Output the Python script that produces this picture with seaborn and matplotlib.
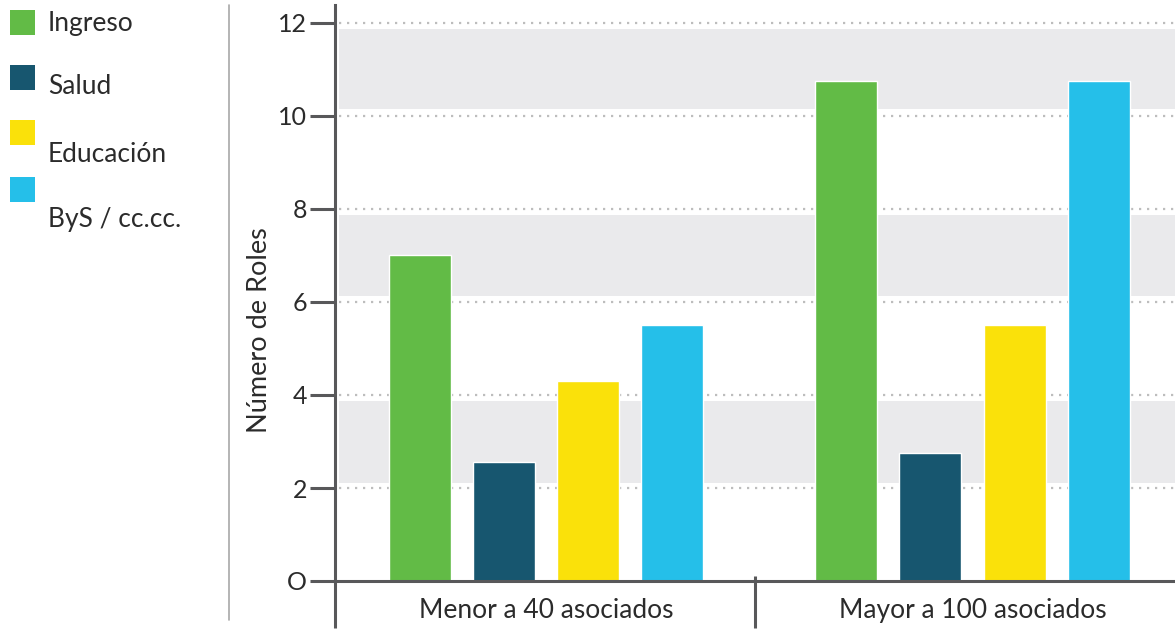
import matplotlib
matplotlib.use("Agg")
import matplotlib.pyplot as plt
import matplotlib.transforms as mtransforms
import seaborn as sns
import pandas as pd

# Data
groups = ["Menor a 40 asociados", "Mayor a 100 asociados"]
series = ["Ingreso", "Salud", "Educación", "ByS / cc.cc."]
ingreso = [7.0, 10.75]
salud = [2.55, 2.75]
educacion = [4.3, 5.5]
bys = [5.5, 10.75]
colors = ["#62BB46", "#17566F", "#FAE10A", "#25BFE9"]
yticks = [0, 2, 4, 6, 8, 10, 12]
ytick_labels = ["O", "2", "4", "6", "8", "10", "12"]
bands = [(2.1, 3.88), (6.12, 7.88), (10.15, 11.88)]

values = {"Ingreso": ingreso, "Salud": salud, "Educación": educacion, "ByS / cc.cc.": bys}
df = pd.DataFrame(
    [(g, s, values[s][i]) for s in series for i, g in enumerate(groups)],
    columns=["grupo", "serie", "roles"],
)

sns.set_theme(style="white")
plt.rcParams["font.family"] = ["Lato", "DejaVu Sans"]
text_color = "#2b2b2b"
axis_color = "#58585A"

W, H = 1175, 629
fig = plt.figure(figsize=(W / 100, H / 100), dpi=100)
ax_left, ax_right, ax_top, ax_bottom = 335, 1175, 5, 581
ax_w, ax_h = ax_right - ax_left, ax_bottom - ax_top
ax = fig.add_axes([ax_left / W, (H - ax_bottom) / H, ax_w / W, ax_h / H])

ymax = ax_h / 46.5
x_lo, x_hi = -0.4947, 1.4748
sep_x = x_lo + 420 / 426.5

# Shaded bands and dotted grid
for lo, hi in bands:
    ax.axhspan(lo, hi, xmin=4 / ax_w, xmax=1, color="#EAEAEC", lw=0, zorder=0)
for t in yticks[1:]:
    ax.axhline(t, xmin=4 / ax_w, xmax=1, color="#BDBDBD", lw=1.6,
               ls=(0, (1, 2.6)), zorder=0.5)

sns.barplot(data=df, x="grupo", y="roles", hue="serie", order=groups,
            hue_order=series, palette=colors, width=0.79, gap=0.264,
            saturation=1, legend=False, ax=ax, zorder=2)

ax.set_xlim(x_lo, x_hi)
ax.set_ylim(0, ymax)

# Axes styling
for side in ["top", "right"]:
    ax.spines[side].set_visible(False)
for side in ["left", "bottom"]:
    ax.spines[side].set_color(axis_color)
    ax.spines[side].set_linewidth(2.2)
    ax.spines[side].set_zorder(3)

ax.set_yticks(yticks)
ax.set_yticklabels(ytick_labels)
ax.tick_params(axis="y", length=18, width=2.2, color=axis_color, pad=2,
               labelsize=18, labelcolor=text_color, left=True)
ax.tick_params(axis="x", length=0, pad=12, labelsize=19, labelcolor=text_color)
ax.set_xlabel("")
ax.set_ylabel("Número de Roles", fontsize=19.5, color=text_color)
ax.yaxis.set_label_coords(-0.075, 0.436)

# Category separators below the axis
trans = mtransforms.blended_transform_factory(ax.transData, ax.transAxes)
y_low = -(628 - ax_bottom) / ax_h
ax.plot([x_lo, x_lo], [y_low, 0], transform=trans, color=axis_color,
        lw=2.2, clip_on=False, zorder=3, solid_capstyle="butt")
ax.plot([sep_x, sep_x], [y_low, 5 / ax_h], transform=trans,
        color=axis_color, lw=2.2, clip_on=False, zorder=3, solid_capstyle="butt")

# Legend column on the left
square_tops = [10, 65, 120, 177]
label_centers = [23, 87, 154, 219]
for s, c, top, yc in zip(series, colors, square_tops, label_centers):
    fig.patches.append(plt.Rectangle((10 / W, (H - top - 25) / H), 25 / W, 25 / H,
                                     transform=fig.transFigure, color=c,
                                     lw=0, figure=fig))
    fig.text(48 / W, (H - yc) / H, s, fontsize=19, color=text_color,
             va="center", ha="left")

fig.add_artist(plt.Line2D([229 / W, 229 / W], [(H - 620) / H, (H - 5) / H],
                          transform=fig.transFigure, color="#A8A8A8", lw=1.2))

fig.savefig("out.png", dpi=100)
